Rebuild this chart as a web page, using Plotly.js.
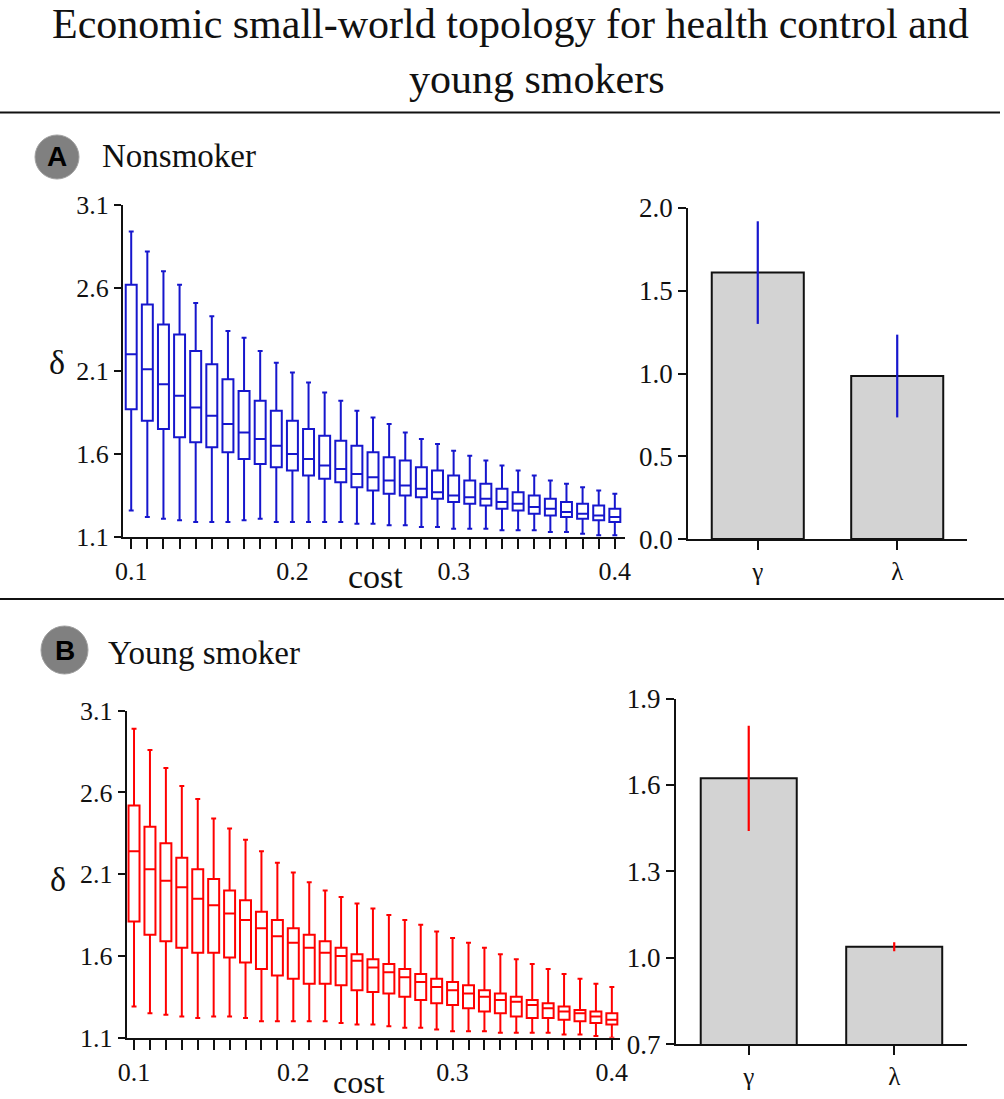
<!DOCTYPE html>
<html>
<head>
<meta charset="utf-8">
<script src="https://cdn.plot.ly/plotly-3.0.1.min.js"></script>
<style>
  body { margin: 0; background: #fff; }
  #chart { width: 1004px; height: 1099px; }
</style>
</head>
<body>
<div id="chart"></div>
<script>
// cost levels (x of every box)
const costs = [0.10, 0.11, 0.12, 0.13, 0.14, 0.15, 0.16, 0.17, 0.18, 0.19, 0.20,
               0.21, 0.22, 0.23, 0.24, 0.25, 0.26, 0.27, 0.28, 0.29, 0.30,
               0.31, 0.32, 0.33, 0.34, 0.35, 0.36, 0.37, 0.38, 0.39, 0.40];
const costLabels = ['0.1', '', '', '', '', '', '', '', '', '', '0.2',
                    '', '', '', '', '', '', '', '', '', '0.3',
                    '', '', '', '', '', '', '', '', '', '0.4'];

// A: nonsmoker, delta per cost
const nsUpper  = [2.94, 2.82, 2.70, 2.62, 2.51, 2.43, 2.34, 2.30, 2.22, 2.15, 2.09,
                  2.03, 1.97, 1.92, 1.86, 1.82, 1.78, 1.73, 1.69, 1.66, 1.62,
                  1.59, 1.56, 1.53, 1.50, 1.47, 1.44, 1.42, 1.40, 1.38, 1.36];
const nsQ3     = [2.62, 2.50, 2.38, 2.32, 2.22, 2.14, 2.05, 1.98, 1.92, 1.86, 1.80,
                  1.75, 1.71, 1.68, 1.65, 1.61, 1.58, 1.56, 1.52, 1.50, 1.47,
                  1.44, 1.42, 1.39, 1.37, 1.35, 1.33, 1.31, 1.30, 1.29, 1.27];
const nsMedian = [2.20, 2.11, 2.02, 1.95, 1.88, 1.83, 1.78, 1.73, 1.69, 1.65, 1.60,
                  1.57, 1.53, 1.51, 1.48, 1.46, 1.44, 1.41, 1.39, 1.37, 1.35,
                  1.34, 1.33, 1.31, 1.30, 1.28, 1.27, 1.25, 1.24, 1.23, 1.22];
const nsQ1     = [1.87, 1.80, 1.75, 1.70, 1.67, 1.64, 1.61, 1.57, 1.54, 1.52, 1.50,
                  1.47, 1.45, 1.43, 1.40, 1.38, 1.36, 1.35, 1.34, 1.33, 1.31,
                  1.30, 1.29, 1.27, 1.26, 1.24, 1.23, 1.22, 1.21, 1.20, 1.19];
const nsLower  = [1.26, 1.22, 1.21, 1.20, 1.19, 1.19, 1.19, 1.20, 1.21, 1.19, 1.19,
                  1.19, 1.19, 1.19, 1.18, 1.18, 1.17, 1.17, 1.16, 1.16, 1.15,
                  1.15, 1.15, 1.14, 1.14, 1.14, 1.13, 1.13, 1.12, 1.11, 1.11];

// B: young smoker, delta per cost
const ysUpper  = [2.99, 2.86, 2.75, 2.64, 2.56, 2.44, 2.38, 2.31, 2.24, 2.17, 2.11,
                  2.05, 2.00, 1.96, 1.92, 1.89, 1.85, 1.82, 1.79, 1.75, 1.71,
                  1.68, 1.65, 1.61, 1.58, 1.55, 1.52, 1.49, 1.46, 1.43, 1.41];
const ysQ3     = [2.52, 2.39, 2.29, 2.20, 2.13, 2.07, 2.00, 1.94, 1.87, 1.82, 1.77,
                  1.73, 1.69, 1.65, 1.61, 1.58, 1.55, 1.52, 1.49, 1.46, 1.44,
                  1.42, 1.39, 1.37, 1.35, 1.33, 1.31, 1.29, 1.27, 1.26, 1.25];
const ysMedian = [2.24, 2.13, 2.06, 2.02, 1.95, 1.91, 1.86, 1.82, 1.77, 1.72, 1.68,
                  1.65, 1.62, 1.60, 1.57, 1.53, 1.50, 1.47, 1.44, 1.41, 1.39,
                  1.37, 1.35, 1.33, 1.32, 1.30, 1.28, 1.26, 1.25, 1.23, 1.21];
const ysQ1     = [1.81, 1.73, 1.69, 1.65, 1.62, 1.62, 1.59, 1.56, 1.52, 1.48, 1.46,
                  1.43, 1.43, 1.42, 1.39, 1.38, 1.37, 1.35, 1.33, 1.31, 1.30,
                  1.28, 1.26, 1.25, 1.23, 1.22, 1.22, 1.21, 1.20, 1.19, 1.18];
const ysLower  = [1.29, 1.25, 1.24, 1.23, 1.22, 1.23, 1.23, 1.22, 1.20, 1.20, 1.20,
                  1.20, 1.20, 1.19, 1.18, 1.18, 1.17, 1.16, 1.16, 1.15, 1.14,
                  1.14, 1.14, 1.13, 1.13, 1.13, 1.13, 1.12, 1.12, 1.11, 1.10];

// small-world coefficients
const coefNames = ['γ', 'λ'];
const nsCoef = [1.61, 0.985];
const nsErr  = [0.31, 0.25];
const ysCoef = [1.623, 1.038];
const ysErr  = [0.183, 0.016];

const BLUE = 'rgb(22,22,205)';
const RED = 'rgb(255,0,0)';
const SERIF = 'Liberation Serif, Times New Roman, serif';

makeBox = (xa, ya, upper, q3, med, q1, lower, color, w) => ({
    type: 'box',
    xaxis: xa, yaxis: ya,
    x: costs,
    upperfence: upper, q3: q3, median: med, q1: q1, lowerfence: lower,
    width: w,
    whiskerwidth: 0.45,
    boxpoints: false,
    fillcolor: 'rgba(0,0,0,0)',
    line: { color: color, width: 2 },
    showlegend: false,
    hoverinfo: 'skip'
});

makeBar = (xa, ya, vals, errs, color) => ({
    type: 'bar',
    xaxis: xa, yaxis: ya,
    x: coefNames,
    y: vals,
    width: 0.66,
    marker: { color: '#d3d3d3', line: { color: '#111', width: 2 } },
    error_y: { type: 'data', array: errs, visible: true, color: color, thickness: 2.2, width: 0 },
    showlegend: false,
    hoverinfo: 'skip'
});

const data = [
    makeBox('x', 'y', nsUpper, nsQ3, nsMedian, nsQ1, nsLower, BLUE, 0.0068),
    makeBar('x2', 'y2', nsCoef, nsErr, BLUE),
    makeBox('x3', 'y3', ysUpper, ysQ3, ysMedian, ysQ1, ysLower, RED, 0.0069),
    makeBar('x4', 'y4', ysCoef, ysErr, RED)
];

const axisBase = {
    showline: true, linecolor: '#111', linewidth: 2,
    ticks: 'outside', tickcolor: '#111', tickwidth: 2,
    showgrid: false, zeroline: false, fixedrange: true
};

const boxX = (domain, range, anchor) => Object.assign({}, axisBase, {
    domain: domain, range: range, anchor: anchor,
    tickmode: 'array', tickvals: costs, ticktext: costLabels, ticklen: 10,
    tickfont: { family: SERIF, size: 26, color: '#111' }
});
const boxY = (domain, anchor) => Object.assign({}, axisBase, {
    domain: domain, range: [1.1, 3.1], anchor: anchor,
    tickmode: 'array', tickvals: [1.1, 1.6, 2.1, 2.6, 3.1], ticktext: ['1.1', '1.6', '2.1', '2.6', '3.1'],
    ticklen: 7, tickfont: { family: SERIF, size: 26, color: '#111' }
});
const barX = (domain, anchor) => Object.assign({}, axisBase, {
    domain: domain, range: [-0.5, 1.5], anchor: anchor, type: 'category', ticklen: 9,
    tickfont: { family: SERIF, size: 25, color: '#111' }
});
const barY = (domain, range, vals, anchor) => Object.assign({}, axisBase, {
    domain: domain, range: range, anchor: anchor,
    tickmode: 'array', tickvals: vals, ticktext: vals.map((v) => v.toFixed(1)),
    ticklen: 8, tickfont: { family: SERIF, size: 27, color: '#111' }
});

const W = 1004, H = 1099;
const px = (v) => v / W;
const py = (v) => 1 - v / H;

const text = (x, y, t, size, opts) => Object.assign({
    xref: 'paper', yref: 'paper', x: px(x), y: py(y), text: t,
    showarrow: false, xanchor: 'center', yanchor: 'middle',
    font: { family: SERIF, size: size, color: '#111' }
}, opts || {});

const layout = {
    width: W, height: H,
    margin: { l: 0, r: 0, t: 0, b: 0 },
    paper_bgcolor: '#fff', plot_bgcolor: '#fff',
    font: { family: SERIF, color: '#111' },
    xaxis: boxX([0.1225, 0.6225], [0.0949, 0.4063], 'y'),
    yaxis: boxY([0.5114, 0.8135], 'x'),
    xaxis2: barX([0.6853, 0.9631], 'y2'),
    yaxis2: barY([0.5095, 0.8107], [0, 2], [0, 0.5, 1.0, 1.5, 2.0], 'x2'),
    xaxis3: boxX([0.1262, 0.6175], [0.0954, 0.4051], 'y3'),
    yaxis3: boxY([0.0558, 0.3533], 'x3'),
    xaxis4: barX([0.6733, 0.9631], 'y4'),
    yaxis4: barY([0.05, 0.3643], [0.7, 1.9], [0.7, 1.0, 1.3, 1.6, 1.9], 'x4'),
    shapes: [
        { type: 'line', xref: 'paper', yref: 'paper', x0: 0, x1: px(1000), y0: py(112.5), y1: py(112.5),
          line: { color: '#111', width: 2 } },
        { type: 'line', xref: 'paper', yref: 'paper', x0: 0, x1: 1, y0: py(599), y1: py(599),
          line: { color: '#111', width: 2 } },
        { type: 'circle', xref: 'paper', yref: 'paper', x0: px(35), x1: px(79), y0: py(179), y1: py(135),
          fillcolor: '#808080', line: { color: '#a0a0a0', width: 1 } },
        { type: 'circle', xref: 'paper', yref: 'paper', x0: px(41), x1: px(88), y0: py(674), y1: py(626),
          fillcolor: '#808080', line: { color: '#a0a0a0', width: 1 } }
    ],
    annotations: [
        text(510, 24, 'Economic small-world topology for health control and', 42),
        text(537, 79, 'young smokers', 42),
        text(57, 157, '<b>A</b>', 28, { font: { family: 'Liberation Sans, Arial, sans-serif', size: 28, color: '#000' } }),
        text(100, 156, 'Nonsmoker', 33, { xanchor: 'left' }),
        text(64.5, 650, '<b>B</b>', 28, { font: { family: 'Liberation Sans, Arial, sans-serif', size: 28, color: '#000' } }),
        text(106, 653, 'Young smoker', 33, { xanchor: 'left' }),
        text(57, 362, 'δ', 34),
        text(375, 576, 'cost', 34),
        text(58, 879, 'δ', 34),
        text(359, 1082, 'cost', 32)
    ]
};

Plotly.newPlot('chart', data, layout, { staticPlot: true, displayModeBar: false });
</script>
</body>
</html>
